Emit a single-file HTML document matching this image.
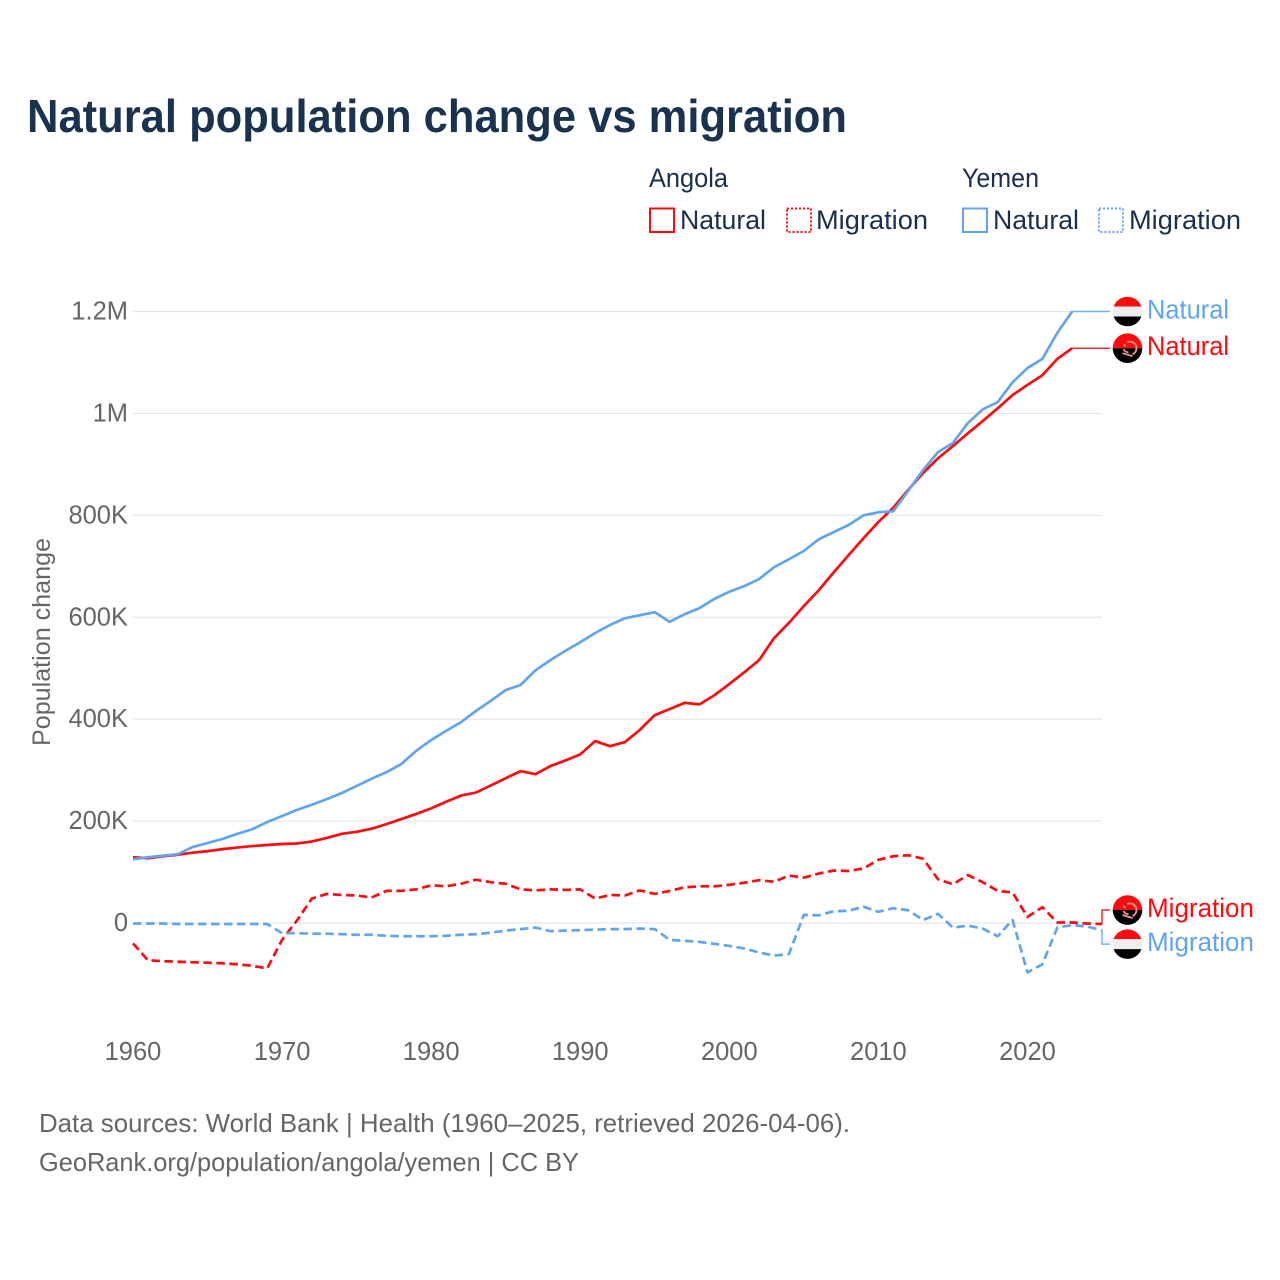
<!DOCTYPE html>
<html lang="en">
<head>
<meta charset="utf-8">
<title>Natural population change vs migration</title>
<style>
  html, body { margin: 0; padding: 0; background: #fff; }
  svg { display: block; font-family: "Liberation Sans", sans-serif; }
</style>
</head>
<body>
<svg id="chart" xmlns="http://www.w3.org/2000/svg" width="1280" height="1280" viewBox="0 0 1280 1280">
  <defs>
    <clipPath id="flag-clip"><circle cx="0" cy="0" r="14.8"></circle></clipPath>
    <g id="flag-yemen">
      <g clip-path="url(#flag-clip)">
        <rect x="-15" y="-15" width="30" height="10" fill="#fe0a0f"></rect>
        <rect x="-15" y="-5" width="30" height="10" fill="#eeeeee"></rect>
        <rect x="-15" y="5" width="30" height="10" fill="#000000"></rect>
      </g>
    </g>
    <g id="flag-angola">
      <g clip-path="url(#flag-clip)">
        <rect x="-15" y="-15" width="30" height="15" fill="#fe0a0f"></rect>
        <rect x="-15" y="0" width="30" height="15" fill="#000000"></rect>
        <path d="M0 -6 A6.500 6.500 0 0 1 5 6 M-4 1 A5 5 0 0 0 1 4 M-5 5 L5 8 M-4 -4 L-2 -2" fill="none" stroke="#f49a8c" stroke-width="1.8"></path>
      </g>
    </g>
  </defs>

  <rect x="0" y="0" width="1280" height="1280" fill="#ffffff"></rect>

  <text x="27" y="132" font-size="46" font-weight="700" fill="#18324f" textLength="820" lengthAdjust="spacingAndGlyphs">Natural population change vs migration</text>

  <g font-size="26.5" fill="#1a2f50">
    <text x="649" y="187" textLength="79" lengthAdjust="spacingAndGlyphs">Angola</text>
    <text x="962" y="187" textLength="77" lengthAdjust="spacingAndGlyphs">Yemen</text>
    <rect x="650" y="208.500" width="24" height="23.500" fill="none" stroke="#fe0a0f" stroke-width="2"></rect>
    <text x="680" y="229" textLength="86" lengthAdjust="spacingAndGlyphs">Natural</text>
    <rect x="787" y="208.500" width="24" height="23.500" fill="none" stroke="#fe0a0f" stroke-width="2" stroke-dasharray="2 2"></rect>
    <text x="816" y="229" textLength="112" lengthAdjust="spacingAndGlyphs">Migration</text>
    <rect x="963" y="208.500" width="24" height="23.500" fill="none" stroke="#60a5ee" stroke-width="2"></rect>
    <text x="993" y="229" textLength="86" lengthAdjust="spacingAndGlyphs">Natural</text>
    <rect x="1099" y="208.500" width="24" height="23.500" fill="none" stroke="#60a5ee" stroke-width="2" stroke-dasharray="2 2"></rect>
    <text x="1129" y="229" textLength="112" lengthAdjust="spacingAndGlyphs">Migration</text>
  </g>

  <g id="grid"></g>
  <g id="y-ticks"></g>
  <g id="x-ticks"></g>
  <text transform="translate(50 642) rotate(-90)" text-anchor="middle" font-size="25" fill="#666666" textLength="208" lengthAdjust="spacingAndGlyphs">Population change</text>

  <g id="series"></g>
  <g id="end-labels"></g>

  <g font-size="26" fill="#666666">
    <text x="39" y="1132" textLength="811" lengthAdjust="spacingAndGlyphs">Data sources: World Bank | Health (1960–2025, retrieved 2026-04-06).</text>
    <text x="39" y="1171" textLength="540" lengthAdjust="spacingAndGlyphs">GeoRank.org/population/angola/yemen | CC BY</text>
  </g>
</svg>

<script>
// Values are in thousands of people, one per year starting at 1960.
const startYear = 1960;
const angolaNatural = [
  129,127,131,134,138,141,145,148,151,153,
  155,156,160,167,175,179,185,194,204,214,
  225,238,250,256,270,284,298,292,308,319,
  331,357,347,355,379,408,420,432,429,447,
  469,492,516,559,589,622,653,688,722,755,
  787,815,850,883,912,936,961,985,1010,1036,
  1056,1075,1107,1128
];
const yemenNatural = [
  125,129,132,135,149,157,165,175,184,198,
  210,222,232,243,255,269,283,296,312,338,
  359,377,394,416,436,457,467,496,516,534,
  551,569,585,598,604,610,591,606,618,636,
  650,661,675,698,714,730,753,767,781,800,
  806,808,848,889,924,942,981,1008,1022,1061,
  1089,1107,1158,1200
];
const angolaMigration = [
  -40,-73,-75,-76,-77,-78,-79,-81,-84,-89,
  -33,5,48,57,55,54,50,63,63,66,
  74,72,77,85,80,77,66,64,66,65,
  66,48,55,54,64,57,63,70,72,72,
  75,79,84,81,93,89,97,103,102,107,
  124,131,133,126,86,76,94,80,63,60,
  12,31,1,1,-1,-2
];
const yemenMigration = [
  -1,-1,-1,-2,-2,-2,-2,-2,-2,-2,
  -20,-20,-21,-21,-22,-23,-23,-25,-26,-26,
  -26,-25,-23,-22,-19,-15,-12,-9,-16,-15,
  -14,-13,-12,-12,-11,-12,-33,-35,-37,-41,
  -45,-50,-58,-64,-61,16,15,23,24,32,
  22,29,25,6,18,-9,-5,-11,-26,6,
  -97,-81,-9,-4,-7,-14
];
const yTickValues = [0, 200, 400, 600, 800, 1000, 1200];
const yTickLabels = ["0", "200K", "400K", "600K", "800K", "1M", "1.2M"];
const xTickValues = [1960, 1970, 1980, 1990, 2000, 2010, 2020];
const xTickLabels = ["1960", "1970", "1980", "1990", "2000", "2010", "2020"];

const NS = "http://www.w3.org/2000/svg";
const plotLeft = 133, plotRight = 1102;
const colorAngola = "#fe0a0f", colorYemen = "#60a5ee";

function xScale(year) { return plotLeft + (year - 1960) * (plotRight - plotLeft) / 65; }
function yScale(v) { return 923 - v * 611.5 / 1200; }

function make(tag, attrs, parent) {
  const el = document.createElementNS(NS, tag);
  for (const k in attrs) el.setAttribute(k, attrs[k]);
  parent.appendChild(el);
  return el;
}

const gridG = document.getElementById("grid");
const yG = document.getElementById("y-ticks");
const xG = document.getElementById("x-ticks");
const seriesG = document.getElementById("series");
const labelsG = document.getElementById("end-labels");

yTickValues.forEach(function (v, i) {
  const line = make("line", { x1: plotLeft, x2: plotRight, y1: yScale(v), y2: yScale(v), stroke: "#e6e6e6", "stroke-width": 1.2 }, gridG);
  
  
  const t = make("text", { x: 128, y: yScale(v) + 8, "text-anchor": "end", "font-size": 25.5, fill: "#666666" }, yG);
  t.textContent = yTickLabels[i];
  
  
});

xTickValues.forEach(function (yr, i) {
  const t = make("text", { x: xScale(yr), y: 1060, "text-anchor": "middle", "font-size": 25.5, fill: "#666666" }, xG);
  t.textContent = xTickLabels[i];
  
  
});

function drawSeries(values, color, dashed, name) {
  const d = values.map(function (v, i) {
    return (i ? "L" : "M") + xScale(startYear + i).toFixed(2) + " " + yScale(v).toFixed(2);
  }).join(" ");
  const attrs = { d: d, fill: "none", stroke: color, "stroke-width": 2.7, "stroke-linejoin": "round" };
  if (dashed) attrs["stroke-dasharray"] = "8.500 4.500";
  const p = make("path", attrs, seriesG);
  
  
}

drawSeries(angolaMigration, colorAngola, true, "line-angola-migration");
drawSeries(yemenMigration, colorYemen, true, "line-yemen-migration");
drawSeries(angolaNatural, colorAngola, false, "line-angola-natural");
drawSeries(yemenNatural, colorYemen, false, "line-yemen-natural");

function drawEndLabel(values, color, flagId, text, labelOffset, labelWidth, name) {
  const lastIndex = values.length - 1;
  const ex = xScale(startYear + lastIndex);
  const ey = yScale(values[lastIndex]);
  const ly = ey + labelOffset;
  const midX = plotRight;
  const c = make("path", {
    d: "M" + ex + " " + ey + " L" + midX + " " + ey + " L" + midX + " " + ly + " L1110 " + ly,
    fill: "none", stroke: color, "stroke-width": 1.5, "stroke-opacity": 0.85
  }, labelsG);
  
  
  const f = make("use", { href: "#" + flagId, transform: "translate(1127.500 " + ly + ")" }, labelsG);
  
  
  const t = make("text", { x: 1147, y: ly + 7, "font-size": 26.5, fill: color, textLength: labelWidth, lengthAdjust: "spacingAndGlyphs" }, labelsG);
  t.textContent = text;
  
  
}

drawEndLabel(yemenNatural, colorYemen, "flag-yemen", "Natural", 0, 82, "end-yemen-natural");
drawEndLabel(angolaNatural, colorAngola, "flag-angola", "Natural", 0, 82, "end-angola-natural");
drawEndLabel(angolaMigration, colorAngola, "flag-angola", "Migration", -14, 107, "end-angola-migration");
drawEndLabel(yemenMigration, colorYemen, "flag-yemen", "Migration", 14, 107, "end-yemen-migration");
</script>
</body>
</html>
